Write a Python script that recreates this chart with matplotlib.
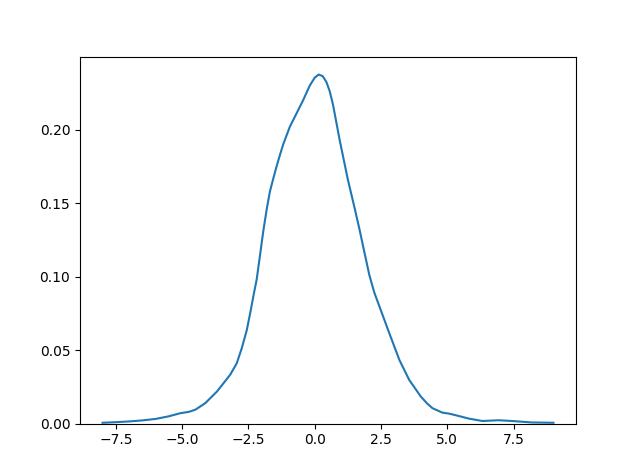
import matplotlib
matplotlib.use("Agg")
import matplotlib.pyplot as plt

# density curve
x_vals = [-8.0, -7.5, -7.0, -6.5, -6.0, -5.5, -5.07, -4.75, -4.5, -4.13, -3.69,
          -3.19, -2.94, -2.75, -2.56, -2.41, -2.29, -2.19, -2.06, -1.94, -1.81,
          -1.69, -1.56, -1.44, -1.31, -1.19, -0.94, -0.69, -0.44, -0.19, 0.0, 0.15,
          0.3, 0.44, 0.56, 0.69, 0.94, 1.25, 1.5, 1.69, 1.88, 2.06, 2.25, 2.44,
          2.81, 3.19, 3.56, 4.0, 4.25, 4.44, 4.81, 5.07, 5.32, 5.82, 6.32, 6.94,
          7.44, 8.19, 9.0]
density = [0.0006, 0.0010, 0.0015, 0.0022, 0.0032, 0.0050, 0.0071, 0.0080, 0.0095,
           0.0139, 0.0218, 0.0332, 0.0411, 0.0514, 0.0638, 0.0774, 0.0890, 0.0980,
           0.1150, 0.1310, 0.1460, 0.1580, 0.1670, 0.1750, 0.1830, 0.1900, 0.2020,
           0.2110, 0.2200, 0.2300, 0.2355, 0.2376, 0.2365, 0.2325, 0.2265, 0.2170,
           0.1930, 0.1660, 0.1470, 0.1320, 0.1160, 0.1010, 0.0890, 0.0797, 0.0616,
           0.0434, 0.0298, 0.0184, 0.0135, 0.0105, 0.0075, 0.0068, 0.0057, 0.0034,
           0.0018, 0.0023, 0.0018, 0.0008, 0.0006]

fig, ax = plt.subplots(figsize=(6.4, 4.76), dpi=100)
ax.plot(x_vals, density, color='#1f77b4', linewidth=1.5)
ax.set_ylim(bottom=0)

fig.savefig("out.png", dpi=100)
